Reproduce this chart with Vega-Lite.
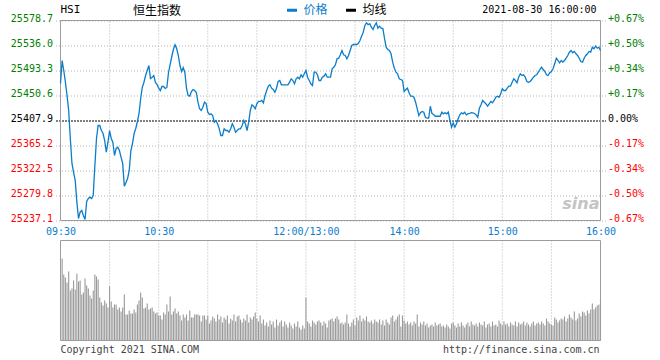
{
  "$schema": "https://vega.github.io/schema/vega-lite/v6.json",
  "width": 550,
  "height": 320,
  "autosize": {"type": "none"},
  "padding": {"left": 55.5, "top": 20.5, "right": 54.5, "bottom": 19.5},
  "background": "white",
  "config": {
    "view": {"stroke": null},
    "font": "DejaVu Sans Mono",
    "axis": {"labelFont": "DejaVu Sans Mono", "labelFontSize": 10, "domain": false, "ticks": false, "title": null}
  },
  "datasets": {
    "price": [
      {"t":0,"p":25471.1},{"t":1,"p":25510.4},{"t":2,"p":25493.3},{"t":3,"p":25473.3},{"t":4,"p":25450.6},{"t":5,"p":25425.0},{"t":6,"p":25377.2},{"t":7,"p":25334.5},{"t":8,"p":25319.1},{"t":9,"p":25305.4},
      {"t":10,"p":25268.4},{"t":11,"p":25240.5},{"t":12,"p":25251.3},{"t":13,"p":25254.2},{"t":14,"p":25245.6},{"t":15,"p":25238.8},{"t":16,"p":25269.6},{"t":17,"p":25274.7},{"t":18,"p":25276.9},{"t":19,"p":25274.7},
      {"t":20,"p":25279.8},{"t":21,"p":25331.0},{"t":22,"p":25377.2},{"t":23,"p":25399.4},{"t":24,"p":25399.4},{"t":25,"p":25390.8},{"t":26,"p":25385.7},{"t":27,"p":25373.7},{"t":28,"p":25353.8},{"t":29,"p":25370.8},
      {"t":30,"p":25390.8},{"t":31,"p":25377.2},{"t":32,"p":25370.8},{"t":33,"p":25348.1},{"t":34,"p":25360.1},{"t":35,"p":25362.3},{"t":36,"p":25356.7},{"t":37,"p":25345.2},{"t":38,"p":25334.5},{"t":39,"p":25295.7},
      {"t":40,"p":25302.0},{"t":41,"p":25308.8},{"t":42,"p":25322.5},{"t":43,"p":25356.7},{"t":44,"p":25368.6},{"t":45,"p":25385.7},{"t":46,"p":25394.2},{"t":47,"p":25406.2},{"t":48,"p":25419.9},{"t":49,"p":25445.5},
      {"t":50,"p":25464.8},{"t":51,"p":25473.3},{"t":52,"p":25484.8},{"t":53,"p":25493.3},{"t":54,"p":25501.8},{"t":55,"p":25479.6},{"t":56,"p":25481.9},{"t":57,"p":25484.8},{"t":58,"p":25472.8},{"t":59,"p":25469.4},
      {"t":60,"p":25463.1},{"t":61,"p":25459.1},{"t":62,"p":25466.0},{"t":63,"p":25466.0},{"t":64,"p":25462.6},{"t":65,"p":25464.3},{"t":66,"p":25489.9},{"t":67,"p":25503.5},{"t":68,"p":25517.2},{"t":69,"p":25529.2},
      {"t":70,"p":25537.2},{"t":71,"p":25530.9},{"t":72,"p":25518.9},{"t":73,"p":25501.8},{"t":74,"p":25491.6},{"t":75,"p":25498.4},{"t":76,"p":25489.9},{"t":77,"p":25462.6},{"t":78,"p":25450.6},{"t":79,"p":25449.4},
      {"t":80,"p":25457.4},{"t":81,"p":25460.8},{"t":82,"p":25459.1},{"t":83,"p":25455.7},{"t":84,"p":25439.2},{"t":85,"p":25427.9},{"t":86,"p":25425.0},{"t":87,"p":25430.6},{"t":88,"p":25439.2},{"t":89,"p":25436.9},
      {"t":90,"p":25422.1},{"t":91,"p":25418.1},{"t":92,"p":25419.3},{"t":93,"p":25416.4},{"t":94,"p":25405.0},{"t":95,"p":25407.9},{"t":96,"p":25402.3},{"t":97,"p":25393.7},{"t":98,"p":25382.3},{"t":99,"p":25382.3},
      {"t":100,"p":25393.7},{"t":101,"p":25390.8},{"t":102,"p":25390.8},{"t":103,"p":25387.9},{"t":104,"p":25393.7},{"t":105,"p":25402.3},{"t":106,"p":25396.5},{"t":107,"p":25387.9},{"t":108,"p":25390.8},{"t":109,"p":25393.7},
      {"t":110,"p":25393.7},{"t":111,"p":25399.4},{"t":112,"p":25407.9},{"t":113,"p":25402.3},{"t":114,"p":25390.8},{"t":115,"p":25405.0},{"t":116,"p":25425.0},{"t":117,"p":25434.7},{"t":118,"p":25432.3},{"t":119,"p":25427.9},
      {"t":120,"p":25436.4},{"t":121,"p":25440.4},{"t":122,"p":25440.4},{"t":123,"p":25442.1},{"t":124,"p":25438.1},{"t":125,"p":25450.6},{"t":126,"p":25459.1},{"t":127,"p":25466.5},{"t":128,"p":25468.9},{"t":129,"p":25463.1},
      {"t":130,"p":25460.8},{"t":131,"p":25456.2},{"t":132,"p":25463.1},{"t":133,"p":25474.5},{"t":134,"p":25476.2},{"t":135,"p":25468.9},{"t":136,"p":25468.9},{"t":137,"p":25468.9},{"t":138,"p":25468.9},{"t":139,"p":25468.9},
      {"t":140,"p":25473.3},{"t":141,"p":25479.1},{"t":142,"p":25476.2},{"t":143,"p":25470.6},{"t":144,"p":25479.1},{"t":145,"p":25481.9},{"t":146,"p":25479.1},{"t":147,"p":25486.0},{"t":148,"p":25481.9},{"t":149,"p":25487.7},
      {"t":150,"p":25493.3},{"t":151,"p":25481.9},{"t":152,"p":25476.2},{"t":153,"p":25470.6},{"t":154,"p":25467.7},{"t":155,"p":25490.4},{"t":156,"p":25490.4},{"t":157,"p":25486.0},{"t":158,"p":25476.2},{"t":159,"p":25476.2},
      {"t":160,"p":25481.9},{"t":161,"p":25483.6},{"t":162,"p":25487.7},{"t":163,"p":25481.9},{"t":164,"p":25481.9},{"t":165,"p":25481.9},{"t":166,"p":25496.2},{"t":167,"p":25498.9},{"t":168,"p":25503.0},{"t":169,"p":25513.3},
      {"t":170,"p":25514.3},{"t":171,"p":25520.1},{"t":172,"p":25527.5},{"t":173,"p":25520.1},{"t":174,"p":25518.9},{"t":175,"p":25513.3},{"t":176,"p":25518.9},{"t":177,"p":25527.5},{"t":178,"p":25536.0},{"t":179,"p":25537.7},
      {"t":180,"p":25537.7},{"t":181,"p":25537.7},{"t":182,"p":25539.4},{"t":183,"p":25544.5},{"t":184,"p":25551.9},{"t":185,"p":25558.7},{"t":186,"p":25570.2},{"t":187,"p":25574.8},{"t":188,"p":25571.4},{"t":189,"p":25573.1},
      {"t":190,"p":25567.3},{"t":191,"p":25563.3},{"t":192,"p":25570.2},{"t":193,"p":25574.8},{"t":194,"p":25565.5},{"t":195,"p":25569.0},{"t":196,"p":25565.5},{"t":197,"p":25565.0},{"t":198,"p":25548.0},{"t":199,"p":25533.1},
      {"t":200,"p":25529.2},{"t":201,"p":25527.5},{"t":202,"p":25521.8},{"t":203,"p":25507.5},{"t":204,"p":25497.2},{"t":205,"p":25490.4},{"t":206,"p":25487.7},{"t":207,"p":25479.1},{"t":208,"p":25477.9},{"t":209,"p":25476.2},
      {"t":210,"p":25457.4},{"t":211,"p":25460.8},{"t":212,"p":25463.1},{"t":213,"p":25455.2},{"t":214,"p":25449.4},{"t":215,"p":25449.4},{"t":216,"p":25447.7},{"t":217,"p":25439.2},{"t":218,"p":25427.9},{"t":219,"p":25416.4},
      {"t":220,"p":25421.1},{"t":221,"p":25423.3},{"t":222,"p":25422.1},{"t":223,"p":25413.5},{"t":224,"p":25411.8},{"t":225,"p":25411.8},{"t":226,"p":25432.3},{"t":227,"p":25419.9},{"t":228,"p":25418.1},{"t":229,"p":25415.2},
      {"t":230,"p":25415.2},{"t":231,"p":25415.2},{"t":232,"p":25415.2},{"t":233,"p":25422.1},{"t":234,"p":25419.3},{"t":235,"p":25421.1},{"t":236,"p":25419.3},{"t":237,"p":25422.1},{"t":238,"p":25407.9},{"t":239,"p":25396.5},
      {"t":240,"p":25404.0},{"t":241,"p":25396.5},{"t":242,"p":25402.3},{"t":243,"p":25410.8},{"t":244,"p":25417.6},{"t":245,"p":25421.1},{"t":246,"p":25419.3},{"t":247,"p":25422.1},{"t":248,"p":25417.6},{"t":249,"p":25419.3},
      {"t":250,"p":25419.9},{"t":251,"p":25421.1},{"t":252,"p":25420.8},{"t":253,"p":25419.9},{"t":254,"p":25417.6},{"t":255,"p":25413.5},{"t":256,"p":25428.9},{"t":257,"p":25434.7},{"t":258,"p":25442.1},{"t":259,"p":25439.2},
      {"t":260,"p":25436.4},{"t":261,"p":25432.3},{"t":262,"p":25436.4},{"t":263,"p":25440.4},{"t":264,"p":25438.1},{"t":265,"p":25442.1},{"t":266,"p":25447.7},{"t":267,"p":25449.4},{"t":268,"p":25447.7},{"t":269,"p":25453.5},
      {"t":270,"p":25462.0},{"t":271,"p":25459.1},{"t":272,"p":25459.1},{"t":273,"p":25463.1},{"t":274,"p":25466.5},{"t":275,"p":25466.5},{"t":276,"p":25473.3},{"t":277,"p":25479.1},{"t":278,"p":25476.2},{"t":279,"p":25472.3},
      {"t":280,"p":25481.9},{"t":281,"p":25487.7},{"t":282,"p":25484.8},{"t":283,"p":25486.0},{"t":284,"p":25481.9},{"t":285,"p":25474.5},{"t":286,"p":25473.3},{"t":287,"p":25474.5},{"t":288,"p":25477.9},{"t":289,"p":25481.9},
      {"t":290,"p":25484.8},{"t":291,"p":25486.0},{"t":292,"p":25490.4},{"t":293,"p":25495.0},{"t":294,"p":25498.9},{"t":295,"p":25495.0},{"t":296,"p":25491.6},{"t":297,"p":25486.0},{"t":298,"p":25484.8},{"t":299,"p":25489.4},
      {"t":300,"p":25491.6},{"t":301,"p":25496.2},{"t":302,"p":25504.7},{"t":303,"p":25514.3},{"t":304,"p":25510.4},{"t":305,"p":25506.5},{"t":306,"p":25510.4},{"t":307,"p":25507.5},{"t":308,"p":25510.4},{"t":309,"p":25514.3},
      {"t":310,"p":25518.9},{"t":311,"p":25524.6},{"t":312,"p":25527.5},{"t":313,"p":25523.5},{"t":314,"p":25525.8},{"t":315,"p":25521.8},{"t":316,"p":25518.9},{"t":317,"p":25514.3},{"t":318,"p":25508.7},{"t":319,"p":25507.5},
      {"t":320,"p":25514.3},{"t":321,"p":25518.9},{"t":322,"p":25521.8},{"t":323,"p":25525.8},{"t":324,"p":25524.6},{"t":325,"p":25533.1},{"t":326,"p":25530.4},{"t":327,"p":25534.8},{"t":328,"p":25531.4},{"t":329,"p":25533.1},
      {"t":330,"p":25527.5}
    ],
    "vol": [
      {"t":1,"v":82},{"t":2,"v":66},{"t":3,"v":63},{"t":4,"v":58},{"t":5,"v":69},{"t":6,"v":50},{"t":7,"v":52},{"t":8,"v":60},{"t":9,"v":51},{"t":10,"v":67},
      {"t":11,"v":59},{"t":12,"v":60},{"t":13,"v":46},{"t":14,"v":48},{"t":15,"v":62},{"t":16,"v":55},{"t":17,"v":52},{"t":18,"v":45},{"t":19,"v":42},{"t":20,"v":50},
      {"t":21,"v":66},{"t":22,"v":64},{"t":23,"v":61},{"t":24,"v":43},{"t":25,"v":38},{"t":26,"v":35},{"t":27,"v":40},{"t":28,"v":37},{"t":29,"v":33},{"t":30,"v":54},
      {"t":31,"v":39},{"t":32,"v":33},{"t":33,"v":36},{"t":34,"v":36},{"t":35,"v":31},{"t":36,"v":33},{"t":37,"v":29},{"t":38,"v":33},{"t":39,"v":46},{"t":40,"v":26},
      {"t":41,"v":26},{"t":42,"v":30},{"t":43,"v":27},{"t":44,"v":27},{"t":45,"v":31},{"t":46,"v":28},{"t":47,"v":36},{"t":48,"v":40},{"t":49,"v":48},{"t":50,"v":43},
      {"t":51,"v":32},{"t":52,"v":33},{"t":53,"v":37},{"t":54,"v":31},{"t":55,"v":32},{"t":56,"v":33},{"t":57,"v":29},{"t":58,"v":27},{"t":59,"v":28},{"t":60,"v":25},
      {"t":61,"v":25},{"t":62,"v":21},{"t":63,"v":28},{"t":64,"v":26},{"t":65,"v":36},{"t":66,"v":29},{"t":67,"v":44},{"t":68,"v":26},{"t":69,"v":29},{"t":70,"v":32},
      {"t":71,"v":27},{"t":72,"v":29},{"t":73,"v":25},{"t":74,"v":20},{"t":75,"v":26},{"t":76,"v":23},{"t":77,"v":26},{"t":78,"v":20},{"t":79,"v":30},{"t":80,"v":23},
      {"t":81,"v":23},{"t":82,"v":26},{"t":83,"v":26},{"t":84,"v":26},{"t":85,"v":25},{"t":86,"v":19},{"t":87,"v":25},{"t":88,"v":25},{"t":89,"v":21},{"t":90,"v":25},
      {"t":91,"v":17},{"t":92,"v":20},{"t":93,"v":24},{"t":94,"v":22},{"t":95,"v":19},{"t":96,"v":26},{"t":97,"v":21},{"t":98,"v":24},{"t":99,"v":18},{"t":100,"v":23},
      {"t":101,"v":21},{"t":102,"v":25},{"t":103,"v":17},{"t":104,"v":22},{"t":105,"v":20},{"t":106,"v":26},{"t":107,"v":19},{"t":108,"v":24},{"t":109,"v":25},{"t":110,"v":21},
      {"t":111,"v":18},{"t":112,"v":22},{"t":113,"v":20},{"t":114,"v":26},{"t":115,"v":18},{"t":116,"v":23},{"t":117,"v":21},{"t":118,"v":24},{"t":119,"v":28},{"t":120,"v":22},
      {"t":121,"v":19},{"t":122,"v":25},{"t":123,"v":17},{"t":124,"v":21},{"t":125,"v":15},{"t":126,"v":18},{"t":127,"v":14},{"t":128,"v":20},{"t":129,"v":16},{"t":130,"v":19},
      {"t":131,"v":13},{"t":132,"v":21},{"t":133,"v":15},{"t":134,"v":18},{"t":135,"v":20},{"t":136,"v":14},{"t":137,"v":19},{"t":138,"v":16},{"t":139,"v":13},{"t":140,"v":18},
      {"t":141,"v":15},{"t":142,"v":12},{"t":143,"v":17},{"t":144,"v":14},{"t":145,"v":19},{"t":146,"v":13},{"t":147,"v":11},{"t":148,"v":15},{"t":149,"v":12},{"t":150,"v":43},
      {"t":151,"v":19},{"t":152,"v":17},{"t":153,"v":14},{"t":154,"v":20},{"t":155,"v":18},{"t":156,"v":16},{"t":157,"v":19},{"t":158,"v":20},{"t":159,"v":18},{"t":160,"v":15},
      {"t":161,"v":19},{"t":162,"v":17},{"t":163,"v":13},{"t":164,"v":20},{"t":165,"v":21},{"t":166,"v":22},{"t":167,"v":19},{"t":168,"v":22},{"t":169,"v":24},{"t":170,"v":21},
      {"t":171,"v":17},{"t":172,"v":18},{"t":173,"v":16},{"t":174,"v":18},{"t":175,"v":26},{"t":176,"v":17},{"t":177,"v":14},{"t":178,"v":18},{"t":179,"v":21},{"t":180,"v":15},
      {"t":181,"v":23},{"t":182,"v":20},{"t":183,"v":25},{"t":184,"v":19},{"t":185,"v":22},{"t":186,"v":20},{"t":187,"v":24},{"t":188,"v":19},{"t":189,"v":18},{"t":190,"v":20},
      {"t":191,"v":17},{"t":192,"v":21},{"t":193,"v":19},{"t":194,"v":18},{"t":195,"v":21},{"t":196,"v":16},{"t":197,"v":20},{"t":198,"v":15},{"t":199,"v":21},{"t":200,"v":18},
      {"t":201,"v":16},{"t":202,"v":23},{"t":203,"v":25},{"t":204,"v":19},{"t":205,"v":21},{"t":206,"v":24},{"t":207,"v":26},{"t":208,"v":14},{"t":209,"v":25},{"t":210,"v":20},
      {"t":211,"v":17},{"t":212,"v":19},{"t":213,"v":16},{"t":214,"v":18},{"t":215,"v":15},{"t":216,"v":19},{"t":217,"v":17},{"t":218,"v":26},{"t":219,"v":14},{"t":220,"v":18},
      {"t":221,"v":16},{"t":222,"v":19},{"t":223,"v":15},{"t":224,"v":17},{"t":225,"v":13},{"t":226,"v":15},{"t":227,"v":16},{"t":228,"v":14},{"t":229,"v":18},{"t":230,"v":15},
      {"t":231,"v":16},{"t":232,"v":17},{"t":233,"v":14},{"t":234,"v":15},{"t":235,"v":13},{"t":236,"v":16},{"t":237,"v":14},{"t":238,"v":12},{"t":239,"v":17},{"t":240,"v":18},
      {"t":241,"v":15},{"t":242,"v":13},{"t":243,"v":17},{"t":244,"v":14},{"t":245,"v":18},{"t":246,"v":15},{"t":247,"v":13},{"t":248,"v":16},{"t":249,"v":18},{"t":250,"v":14},
      {"t":251,"v":19},{"t":252,"v":16},{"t":253,"v":15},{"t":254,"v":17},{"t":255,"v":14},{"t":256,"v":18},{"t":257,"v":16},{"t":258,"v":15},{"t":259,"v":19},{"t":260,"v":13},
      {"t":261,"v":16},{"t":262,"v":17},{"t":263,"v":14},{"t":264,"v":19},{"t":265,"v":15},{"t":266,"v":16},{"t":267,"v":14},{"t":268,"v":20},{"t":269,"v":17},{"t":270,"v":15},
      {"t":271,"v":19},{"t":272,"v":16},{"t":273,"v":17},{"t":274,"v":14},{"t":275,"v":18},{"t":276,"v":16},{"t":277,"v":15},{"t":278,"v":19},{"t":279,"v":14},{"t":280,"v":18},
      {"t":281,"v":16},{"t":282,"v":17},{"t":283,"v":19},{"t":284,"v":15},{"t":285,"v":18},{"t":286,"v":16},{"t":287,"v":14},{"t":288,"v":17},{"t":289,"v":19},{"t":290,"v":15},
      {"t":291,"v":17},{"t":292,"v":18},{"t":293,"v":16},{"t":294,"v":19},{"t":295,"v":17},{"t":296,"v":15},{"t":297,"v":22},{"t":298,"v":19},{"t":299,"v":17},{"t":300,"v":16},
      {"t":301,"v":15},{"t":302,"v":23},{"t":303,"v":21},{"t":304,"v":18},{"t":305,"v":20},{"t":306,"v":22},{"t":307,"v":21},{"t":308,"v":24},{"t":309,"v":19},{"t":310,"v":22},
      {"t":311,"v":26},{"t":312,"v":23},{"t":313,"v":21},{"t":314,"v":29},{"t":315,"v":20},{"t":316,"v":22},{"t":317,"v":27},{"t":318,"v":24},{"t":319,"v":29},{"t":320,"v":28},
      {"t":321,"v":25},{"t":322,"v":30},{"t":323,"v":27},{"t":324,"v":31},{"t":325,"v":37},{"t":326,"v":31},{"t":327,"v":33},{"t":328,"v":35},{"t":329,"v":36},{"t":330,"v":42}
    ]
  },
  "layer": [
    {
      "resolve": {"axis": {"y": "independent"}},
      "layer": [
        {
          "data": {"name": "price"},
          "transform": [{"filter": "datum.t % 30 == 0 && datum.t > 0 && datum.t < 330"}],
          "mark": {"type": "rule", "color": "#b4b4b4", "strokeDash": [1, 2], "strokeWidth": 1},
          "encoding": {
            "x": {"field": "t", "type": "quantitative", "scale": {"domain": [0, 330], "nice": false, "zero": false},
              "axis": {
                "orient": "bottom", "offset": -120, "values": [0, 60, 150, 210, 270, 330],
                "labelExpr": "datum.value == 0 ? '09:30' : datum.value == 60 ? '10:30' : datum.value == 150 ? '12:00/13:00' : datum.value == 210 ? '14:00' : datum.value == 270 ? '15:00' : '16:00'",
                "labelColor": "#0b7dcb", "labelFlush": true, "labelOverlap": false, "labelPadding": 6,
                "encode": {"labels": {"update": {"dx": {"signal": "datum.value > 0 && datum.value < 330 ? -4 : 0"}}}},
                "grid": false, "title": null
              }
            },
            "y": {"datum": 25237.1, "type": "quantitative", "scale": {"domain": [25032.14, 25578.7], "nice": false, "zero": false}, "axis": null},
            "y2": {"datum": 25578.7}
          }
        },
        {
          "data": {"values": [{}]},
          "mark": {"type": "rect", "fillOpacity": 0, "stroke": "#9c9c9c", "strokeWidth": 1},
          "encoding": {
            "x": {"datum": 0, "type": "quantitative", "scale": {"domain": [0, 330], "nice": false, "zero": false}},
            "x2": {"datum": 330},
            "y": {"datum": 25237.1, "type": "quantitative", "scale": {"domain": [25032.14, 25578.7], "nice": false, "zero": false}, "axis": null},
            "y2": {"datum": 25578.7}
          }
        },
        {
          "data": {"name": "price"},
          "mark": {"type": "line", "strokeWidth": 1.3, "interpolate": "linear"},
          "encoding": {
            "x": {"field": "t", "type": "quantitative", "scale": {"domain": [0, 330], "nice": false, "zero": false}},
            "y": {
              "field": "p", "type": "quantitative",
              "scale": {"domain": [25032.14, 25578.7], "nice": false, "zero": false},
              "axis": {
                "orient": "left",
                "values": [25237.1, 25279.8, 25322.5, 25365.2, 25407.9, 25450.6, 25493.3, 25536.0, 25578.7],
                "format": ".1f", "labelPadding": 3, "labelBaseline": "alphabetic", "labelOffset": 1,
                "labelColor": {"condition": [{"test": "datum.value > 25407.95", "value": "#008000"}, {"test": "datum.value < 25407.85", "value": "#ff0000"}], "value": "#000000"},
                "grid": true,
                "gridColor": {"condition": {"test": "abs(datum.value - 25407.9) < 0.05", "value": "#000000"}, "value": "#b4b4b4"},
                "gridDash": {"condition": {"test": "abs(datum.value - 25407.9) < 0.05", "value": [2, 1]}, "value": [1, 2]},
                "title": null
              }
            },
            "color": {
              "datum": "价格", "type": "nominal",
              "scale": {"domain": ["价格", "均线"], "range": ["#0b7dcb", "#000000"]},
              "legend": {
                "orient": "none", "legendX": 230, "legendY": -17, "direction": "horizontal", "title": null,
                "symbolType": "stroke", "symbolStrokeWidth": 3, "symbolSize": 100,
                "labelFont": "Noto Sans CJK SC", "labelFontSize": 12, "labelOffset": 5, "columnPadding": 11, "padding": 0,
                "encode": {"labels": {"update": {"fill": {"signal": "datum.label === '价格' ? '#0b7dcb' : '#000000'"}}}}
              }
            }
          }
        },
        {
          "data": {"name": "price"},
          "mark": {"type": "line", "strokeOpacity": 0},
          "encoding": {
            "x": {"field": "t", "type": "quantitative", "scale": {"domain": [0, 330], "nice": false, "zero": false}},
            "y": {
              "field": "p", "type": "quantitative",
              "scale": {"domain": [25032.14, 25578.7], "nice": false, "zero": false},
              "axis": {
                "orient": "right",
                "values": [25237.1, 25279.8, 25322.5, 25365.2, 25407.9, 25450.6, 25493.3, 25536.0, 25578.7],
                "labelExpr": "(datum.value > 25407.95 ? '+' : datum.value < 25407.85 ? '-' : ' ') + format(abs(datum.value - 25407.9) / 25407.9 * 100, '.2f') + '%'",
                "labelPadding": 2, "labelBaseline": "alphabetic", "labelOffset": 1,
                "labelColor": {"condition": [{"test": "datum.value > 25407.95", "value": "#008000"}, {"test": "datum.value < 25407.85", "value": "#ff0000"}], "value": "#000000"},
                "grid": false, "title": null
              }
            }
          }
        },
        {
          "data": {"values": [{}]},
          "mark": {"type": "text", "align": "left", "baseline": "alphabetic", "font": "DejaVu Sans Mono", "fontSize": 11, "color": "#000000"},
          "encoding": {
            "x": {"datum": 0, "type": "quantitative", "scale": {"domain": [0, 330], "nice": false, "zero": false}},
            "y": {"datum": 25591.0, "type": "quantitative", "scale": {"domain": [25032.14, 25578.7], "nice": false, "zero": false}, "axis": null},
            "text": {"value": "HSI"}
          }
        },
        {
          "data": {"values": [{}]},
          "mark": {"type": "text", "align": "center", "baseline": "middle", "font": "Noto Sans CJK SC", "fontSize": 12, "color": "#000000"},
          "encoding": {
            "x": {"datum": 59, "type": "quantitative", "scale": {"domain": [0, 330], "nice": false, "zero": false}},
            "y": {"datum": 25594.9, "type": "quantitative", "scale": {"domain": [25032.14, 25578.7], "nice": false, "zero": false}, "axis": null},
            "text": {"value": "恒生指数"}
          }
        },
        {
          "data": {"values": [{}]},
          "mark": {"type": "text", "align": "right", "baseline": "alphabetic", "font": "DejaVu Sans Mono", "fontSize": 10, "color": "#000000"},
          "encoding": {
            "x": {"datum": 327.6, "type": "quantitative", "scale": {"domain": [0, 330], "nice": false, "zero": false}},
            "y": {"datum": 25591.0, "type": "quantitative", "scale": {"domain": [25032.14, 25578.7], "nice": false, "zero": false}, "axis": null},
            "text": {"value": "2021-08-30 16:00:00"}
          }
        },
        {
          "data": {"values": [{}]},
          "mark": {"type": "text", "align": "center", "baseline": "alphabetic", "font": "DejaVu Sans", "fontSize": 16, "fontStyle": "italic", "fontWeight": "bold", "color": "#c4c4c4"},
          "encoding": {
            "x": {"datum": 318, "type": "quantitative", "scale": {"domain": [0, 330], "nice": false, "zero": false}},
            "y": {"datum": 25256.0, "type": "quantitative", "scale": {"domain": [25032.14, 25578.7], "nice": false, "zero": false}, "axis": null},
            "text": {"value": "sina"}
          }
        }
      ]
    },
    {
      "layer": [
        {
          "data": {"name": "vol"},
          "transform": [{"filter": "datum.t % 30 == 0 && datum.t > 0 && datum.t < 330"}],
          "mark": {"type": "rule", "color": "#b4b4b4", "strokeDash": [1, 2], "strokeWidth": 1},
          "encoding": {
            "x": {"field": "t", "type": "quantitative", "scale": {"domain": [0, 330], "nice": false, "zero": false}},
            "y": {"datum": 0, "type": "quantitative", "scale": {"domain": [0, 320], "nice": false, "zero": false}, "axis": null},
            "y2": {"datum": 100}
          }
        },
        {
          "data": {"name": "vol"},
          "mark": {"type": "bar", "width": 1.1, "color": "#999999"},
          "encoding": {
            "x": {"field": "t", "type": "quantitative", "scale": {"domain": [0, 330], "nice": false, "zero": false}},
            "y": {
              "field": "v", "type": "quantitative",
              "scale": {"domain": [0, 320], "nice": false, "zero": false},
              "axis": {"orient": "left", "values": [25, 50, 75], "labels": false, "grid": true, "gridColor": "#b4b4b4", "gridDash": [1, 2], "title": null}
            }
          }
        },
        {
          "data": {"values": [{}]},
          "mark": {"type": "rect", "fillOpacity": 0, "stroke": "#9c9c9c", "strokeWidth": 1},
          "encoding": {
            "x": {"datum": 0, "type": "quantitative", "scale": {"domain": [0, 330], "nice": false, "zero": false}},
            "x2": {"datum": 330},
            "y": {"datum": 0, "type": "quantitative", "scale": {"domain": [0, 320], "nice": false, "zero": false}, "axis": null},
            "y2": {"datum": 100}
          }
        },
        {
          "data": {"values": [{}]},
          "mark": {"type": "text", "align": "left", "baseline": "alphabetic", "font": "DejaVu Sans Mono", "fontSize": 10, "color": "#444444"},
          "encoding": {
            "x": {"datum": 0, "type": "quantitative", "scale": {"domain": [0, 330], "nice": false, "zero": false}},
            "y": {"datum": -12, "type": "quantitative", "scale": {"domain": [0, 320], "nice": false, "zero": false}, "axis": null},
            "text": {"value": "Copyright 2021 SINA.COM"}
          }
        },
        {
          "data": {"values": [{}]},
          "mark": {"type": "text", "align": "right", "baseline": "alphabetic", "font": "DejaVu Sans Mono", "fontSize": 10, "color": "#444444"},
          "encoding": {
            "x": {"datum": 329.4, "type": "quantitative", "scale": {"domain": [0, 330], "nice": false, "zero": false}},
            "y": {"datum": -12, "type": "quantitative", "scale": {"domain": [0, 320], "nice": false, "zero": false}, "axis": null},
            "text": {"value": "http://finance.sina.com.cn"}
          }
        }
      ]
    }
  ],
  "resolve": {"scale": {"y": "independent"}}
}
